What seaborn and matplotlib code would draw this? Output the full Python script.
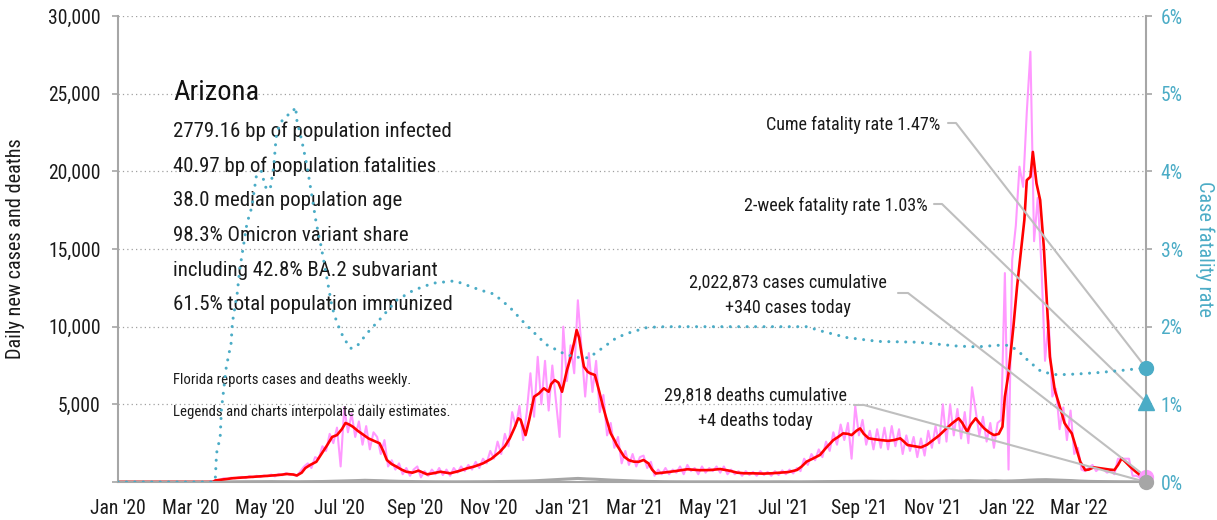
import matplotlib
matplotlib.use("Agg")
import numpy as np
import pandas as pd
import matplotlib.pyplot as plt
import matplotlib.dates as mdates
from matplotlib import font_manager as fm
from matplotlib.ticker import FuncFormatter, MultipleLocator
import seaborn as sns

# ── Data, days counted from 2020-01-01 ──
START = pd.Timestamp("2020-01-01")
END_DAY = 845

# 7-day average of new cases (red)
avg_day = [0, 78, 80, 88, 95, 105, 115, 122, 132, 139,
           144, 147, 151, 154, 158, 163, 168, 172, 176, 180,
           184, 187, 190, 193, 197, 202, 206, 210, 215, 218,
           221, 225, 229, 233, 237, 242, 247, 251, 254, 259,
           265, 270, 273, 280, 287, 293, 300, 307, 314, 318,
           322, 326, 329, 331, 335, 338, 342, 346, 350, 354,
           356, 359, 362, 365, 369, 372, 375, 377, 379, 381,
           383, 386, 388, 392, 395, 398, 401, 405, 408, 410,
           413, 416, 420, 424, 428, 432, 436, 439, 442, 450,
           458, 468, 478, 487, 495, 503, 509, 515, 522, 530,
           537, 544, 551, 558, 562, 566, 571, 577, 582, 588,
           592, 596, 600, 603, 607, 610, 613, 617, 622, 627,
           633, 638, 643, 646, 649, 655, 660, 665, 670, 675,
           681, 686, 691, 694, 698, 701, 705, 708, 712, 716,
           720, 724, 727, 729, 732, 734, 736, 739, 742, 745,
           747, 750, 752, 755, 758, 761, 764, 766, 770, 775,
           778, 780, 784, 786, 788, 791, 795, 798, 802, 806,
           810, 815, 819, 822, 825, 828, 832, 836, 840, 845]
avg_cases = [0, 0, 100, 180, 250, 300, 350, 390, 450, 515,
             480, 420, 600, 900, 1100, 1300, 1900, 2380, 2900, 3020,
             3400, 3800, 3700, 3560, 3300, 3020, 2800, 2660, 2490, 2000,
             1415, 1150, 985, 800, 660, 600, 730, 600, 495, 560,
             660, 600, 560, 700, 880, 1000, 1200, 1500, 1950, 2300,
             2810, 3500, 4100, 4000, 3020, 4000, 5490, 5700, 6030, 5810,
             6300, 6560, 6400, 5810, 7200, 8000, 9000, 9780, 9300, 8300,
             7420, 7100, 7000, 6890, 6000, 5060, 4200, 3130, 2700, 2380,
             2000, 1630, 1400, 1310, 1300, 1415, 1200, 800, 550, 620,
             700, 820, 760, 770, 835, 720, 600, 560, 560, 540,
             560, 600, 640, 770, 1000, 1310, 1500, 1740, 2200, 2700,
             2900, 3130, 3100, 3020, 3300, 3450, 3100, 2810, 2750, 2700,
             2650, 2700, 2810, 2600, 2380, 2300, 2230, 2400, 2700, 3000,
             3450, 3800, 4100, 3800, 3240, 3700, 4100, 3800, 3450, 3200,
             3020, 3100, 3560, 5490, 7000, 8500, 9990, 12570, 14720, 16860,
             19430, 19650, 21250, 19220, 18150, 15140, 10860, 8060, 5920, 4630,
             3800, 3560, 3130, 2600, 2060, 1300, 770, 800, 945, 900,
             850, 800, 770, 1100, 1525, 1300, 985, 700, 450, 340]

# reported daily new cases (pink), every 3rd day from day 75
RAW_START, RAW_STEP = 75, 3
raw_cases = [20, 60, 110, 150, 240,
             200, 280, 230, 290, 330, 250, 380, 300, 400, 320, 420,
             370, 480, 360, 520, 430, 580, 460, 520, 380, 700,
             1000, 1200, 900, 1600, 1500, 2300, 2000, 3100, 2500, 3500,
             1000, 4800, 3200, 4400, 2900, 3900, 2400, 3600, 2100, 3200,
             2900, 1800, 2700, 1000, 1400, 800, 1200, 500, 900, 400,
             800, 1000, 300, 700, 400, 800, 500, 900, 450, 800,
             400, 900, 600, 1000, 700, 1100, 800, 1300, 900, 1500,
             1200, 2000, 1500, 2600, 1800, 3100, 2300, 4500, 3600, 4900,
             2700, 4500, 7000, 4200, 8060, 5000, 7800, 4600, 7500, 5200,
             2900, 10000, 6500, 8800, 7000, 11700, 8600, 5500, 8300, 5800,
             7800, 4500, 5600, 3000, 3800, 2200, 2900, 1200, 2000, 1100,
             1800, 1000, 1600, 1700, 900, 1300, 400, 800, 500, 900,
             500, 800, 600, 1000, 500, 1100, 700, 900, 500, 1000,
             600, 900, 700, 1000, 600, 1000, 500, 800, 500, 700,
             400, 700, 450, 650, 400, 700, 450, 650, 400, 700,
             450, 750, 500, 800, 550, 900, 700, 1500, 1100, 1800,
             1400, 2100, 1600, 2600, 2000, 3200, 2400, 3700, 2700, 3800,
             1500, 4900, 3000, 4000, 2400, 3300, 2100, 3400, 2200, 3500,
             2100, 3600, 2300, 3400, 1800, 3000, 2000, 2900, 1600, 2800,
             1700, 3300, 2200, 3600, 2500, 5000, 2600, 5000, 3000, 4700,
             2800, 4500, 2500, 6100, 4600, 3000, 4200, 2600, 3800, 2200,
             3800, 4000, 13450, 800, 14300, 16500, 20300, 19000, 23800, 27700,
             15500, 18300, 14000, 7800, 10400, 5500, 6000, 3400, 4800, 2700,
             4600, 1800, 2200, 800, 700, 900, 1100, 700, 900, 800,
             600, 700, 500, 1500, 1500, 1500, 1500, 400, 400, 300, 350]

# daily new deaths (gray), every 7th day from day 0
DEATH_STEP = 7
deaths = [0, 0, 0, 0, 0, 0, 0, 0, 0, 0,
          0, 1, 3, 8, 15, 18, 20, 22, 25, 20,
          18, 15, 20, 25, 30, 45, 60, 75, 90, 110,
          95, 80, 60, 45, 35, 25, 20, 15, 12, 10,
          10, 12, 15, 18, 22, 30, 40, 50, 60, 80,
          110, 140, 170, 200, 230, 200, 180, 150, 120, 100,
          80, 60, 40, 30, 20, 15, 12, 10, 10, 10,
          10, 8, 10, 8, 10, 12, 10, 12, 15, 12,
          10, 15, 20, 25, 30, 35, 40, 45, 50, 45,
          40, 45, 40, 45, 50, 45, 50, 60, 70, 65,
          80, 70, 60, 80, 60, 70, 90, 120, 140, 150,
          130, 110, 90, 60, 40, 30, 25, 20, 15, 12, 10]

# cumulative case fatality rate, % (teal dotted)
cfr_day = [0, 79, 80, 81, 84, 85, 89, 93, 94, 98,
           100, 103, 106, 110, 114, 118, 121, 125, 128, 130,
           133, 139, 143, 146, 147, 151, 155, 159, 163, 167,
           172, 176, 180, 185, 191, 196, 205, 215, 229, 243,
           259, 277, 298, 309, 322, 335, 352, 368, 380, 387,
           396, 410, 420, 435, 450, 566, 579, 599, 625, 657,
           690, 706, 723, 732, 739, 749, 759, 772, 788, 807,
           827, 845]
cfr_rate = [0, 0, 0.05, 0.37, 0.58, 0.93, 1.48, 1.79, 2.05, 2.43,
            2.73, 3.03, 3.33, 3.54, 3.97, 4.0, 3.8, 3.76, 4.06, 4.44,
            4.62, 4.72, 4.75, 4.83, 4.66, 4.4, 4.1, 3.72, 3.33, 3.03,
            2.6, 2.25, 2.05, 1.87, 1.72, 1.74, 1.92, 2.09, 2.34, 2.47,
            2.56, 2.59, 2.47, 2.42, 2.25, 2.03, 1.77, 1.64, 1.6, 1.6,
            1.7, 1.86, 1.92, 1.99, 2.0, 2.0, 1.94, 1.86, 1.81, 1.8,
            1.75, 1.74, 1.76, 1.76, 1.7, 1.55, 1.42, 1.38, 1.39, 1.41,
            1.44, 1.47]

cume_rate = 1.47
two_week_rate = 1.03
deaths_today = 4

title = "Arizona"
facts = ["2779.16 bp of population infected",
         "40.97 bp of population fatalities",
         "38.0 median population age",
         "98.3% Omicron variant share",
         "including 42.8% BA.2 subvariant",
         "61.5% total population immunized"]
notes = ["Florida reports cases and deaths weekly.",
         "Legends and charts interpolate daily estimates."]
cases_label = ["2,022,873 cases cumulative", "+340 cases today"]
deaths_label = ["29,818 deaths cumulative", "+4 deaths today"]

# ── Style ──
TEAL = "#4BACC6"
PINK = "#FF99FF"
RED = "#FF0000"
GRAY = "#A6A6A6"
LEADER = "#BFBFBF"
INK = "#1A1A1A"

sns.set_style("white")

# the reference uses a condensed face; take the narrowest one installed
ttf = fm.fontManager.ttflist
names = {f.name for f in ttf}
FONT, STRETCH = "Liberation Sans", "normal"
for cand in ("Liberation Sans Narrow", "Roboto Condensed", "Noto Sans Condensed",
             "Open Sans Condensed", "Arial Narrow"):
    if cand in names:
        FONT = cand
        break
else:
    for f in ttf:
        if f.name in ("Roboto", "Noto Sans", "Open Sans") and str(f.stretch) in (
                "condensed", "semi-condensed", "extra-condensed"):
            FONT, STRETCH = f.name, str(f.stretch)
            break
plt.rcParams["font.family"] = [FONT, "DejaVu Sans"]
plt.rcParams["font.stretch"] = STRETCH


def to_date(days):
    return START + pd.to_timedelta(np.asarray(days), unit="D")


raw_df = pd.DataFrame({"date": to_date(RAW_START + RAW_STEP * np.arange(len(raw_cases))),
                       "cases": raw_cases})
avg_df = pd.DataFrame({"date": to_date(avg_day), "cases": avg_cases})
death_df = pd.DataFrame({"date": to_date(DEATH_STEP * np.arange(len(deaths))),
                         "deaths": deaths})
cfr_df = pd.DataFrame({"date": to_date(cfr_day), "rate": cfr_rate})
end_date = START + pd.Timedelta(days=END_DAY)

fig = plt.figure(figsize=(12.17, 5.2), dpi=100)

# scale every font so the widest fact line spans the same 279 px as in the reference
probe = fig.text(0, 0, facts[0], fontsize=16.5)
K = 279 / probe.get_window_extent(fig.canvas.get_renderer()).width
probe.remove()
K = min(K, 1.0)

ax = fig.add_axes([118 / 1217, 1 - 482 / 520, 1028 / 1217, 466 / 520])

sns.lineplot(data=raw_df, x="date", y="cases", ax=ax, color=PINK, lw=1.5, errorbar=None)
sns.lineplot(data=death_df, x="date", y="deaths", ax=ax, color=GRAY, lw=2.2, errorbar=None)
sns.lineplot(data=avg_df, x="date", y="cases", ax=ax, color=RED, lw=1.9, errorbar=None)

ax.plot(end_date, avg_cases[-1], "o", ms=10, color=PINK, clip_on=False, zorder=5)
ax.plot(end_date, deaths_today, "o", ms=10, color=GRAY, clip_on=False, zorder=6)

ax.set_xlim(START, end_date)
ax.set_ylim(0, 30000)
ax.yaxis.set_major_locator(MultipleLocator(5000))
ax.yaxis.set_major_formatter(FuncFormatter(lambda v, p: "" if v == 0 else f"{v:,.0f}"))
ax.xaxis.set_major_locator(mdates.MonthLocator(bymonth=[1, 3, 5, 7, 9, 11]))
ax.xaxis.set_major_formatter(mdates.DateFormatter("%b '%y"))
ax.yaxis.grid(True, linestyle=(0, (1, 2.5)), color="#A0A0A0", lw=0.9)
ax.xaxis.grid(False)
ax.set_xlabel("")
ax.set_ylabel("")
ax.tick_params(axis="both", direction="out", length=4.5, width=1.2, color=GRAY,
               labelsize=15.5 * K, labelcolor=INK)
ax.tick_params(axis="y", pad=8)
ax.tick_params(axis="x", pad=8)
for side in ("top", "right"):
    ax.spines[side].set_visible(False)
for side in ("left", "bottom"):
    ax.spines[side].set_color(GRAY)
    ax.spines[side].set_linewidth(1.5)

# right axis: case fatality rate
ax2 = ax.twinx()
sns.lineplot(data=cfr_df, x="date", y="rate", ax=ax2, color=TEAL, lw=2.2, errorbar=None)
cfr_line = ax2.lines[-1]
cfr_line.set_linestyle((0, (0.01, 2.75)))
cfr_line.set_dash_capstyle("round")
ax2.plot(end_date, cume_rate, "o", ms=10, color=TEAL, clip_on=False, zorder=6)
ax2.plot(end_date, two_week_rate, "^", ms=11, color=TEAL, clip_on=False, zorder=6)
ax2.set_xlim(START, end_date)
ax2.set_ylim(0, 6)
ax2.yaxis.set_major_locator(MultipleLocator(1))
ax2.yaxis.set_major_formatter(FuncFormatter(lambda v, p: f"{v:.0f}%"))
ax2.set_ylabel("")
ax2.set_xlabel("")
ax2.tick_params(axis="y", direction="out", length=4.5, width=1.2, color=GRAY,
                labelsize=15.5 * K, labelcolor=TEAL, pad=6)
for side in ("top", "left", "bottom"):
    ax2.spines[side].set_visible(False)
ax2.spines["right"].set_color(GRAY)
ax2.spines["right"].set_linewidth(1.5)
ax2.grid(False)

# axis titles
fig.text(16 / 1217, 1 - 249 / 520, "Daily new cases and deaths", rotation=90,
         ha="center", va="center", fontsize=16 * K, color=INK)
fig.text(1205 / 1217, 1 - 249 / 520, "Case fatality rate", rotation=270,
         ha="center", va="center", fontsize=16 * K, color=TEAL)


def fx(px):
    return (px - 118) / 1028


def fy(py):
    return (482 - py) / 466


# info block
ax.text(fx(173), fy(92), title, transform=ax.transAxes, ha="left", va="center",
        fontsize=22.5 * K, color="#111111")
for i, line in enumerate(facts):
    ax.text(fx(173), fy(131 + 34.8 * i), line, transform=ax.transAxes,
            ha="left", va="center", fontsize=16.5 * K, color=INK)
for i, line in enumerate(notes):
    ax.text(fx(173), fy(380 + 32 * i), line, transform=ax.transAxes,
            ha="left", va="center", fontsize=11.7 * K, color=INK)

# callouts with leader lines
to_axes = ax.transAxes.inverted()


def leader(x0, x1, y, end_ax, end_value):
    ex, ey = to_axes.transform(end_ax.transData.transform((mdates.date2num(end_date), end_value)))
    ax.plot([fx(x0), fx(x1), ex], [fy(y), fy(y), ey], color=LEADER, lw=1.5,
            transform=ax.transAxes, clip_on=False, zorder=4)


ax.text(fx(940), fy(125), f"Cume fatality rate {cume_rate:.2f}%", transform=ax.transAxes,
        ha="right", va="center", fontsize=14.3 * K, color=INK)
leader(948, 956, 123, ax2, cume_rate)

ax.text(fx(928), fy(206), f"2-week fatality rate {two_week_rate:.2f}%", transform=ax.transAxes,
        ha="right", va="center", fontsize=14.3 * K, color=INK)
leader(934, 942, 204, ax2, two_week_rate)

for i, line in enumerate(cases_label):
    ax.text(fx(788), fy(282 + 26 * i), line, transform=ax.transAxes,
            ha="center", va="center", fontsize=14.3 * K, color=INK)
leader(898, 908, 293, ax, avg_cases[-1])

for i, line in enumerate(deaths_label):
    ax.text(fx(755), fy(395 + 26 * i), line, transform=ax.transAxes,
            ha="center", va="center", fontsize=14.3 * K, color=INK)
leader(854, 864, 405, ax, 0)

fig.savefig("out.png", dpi=100)
